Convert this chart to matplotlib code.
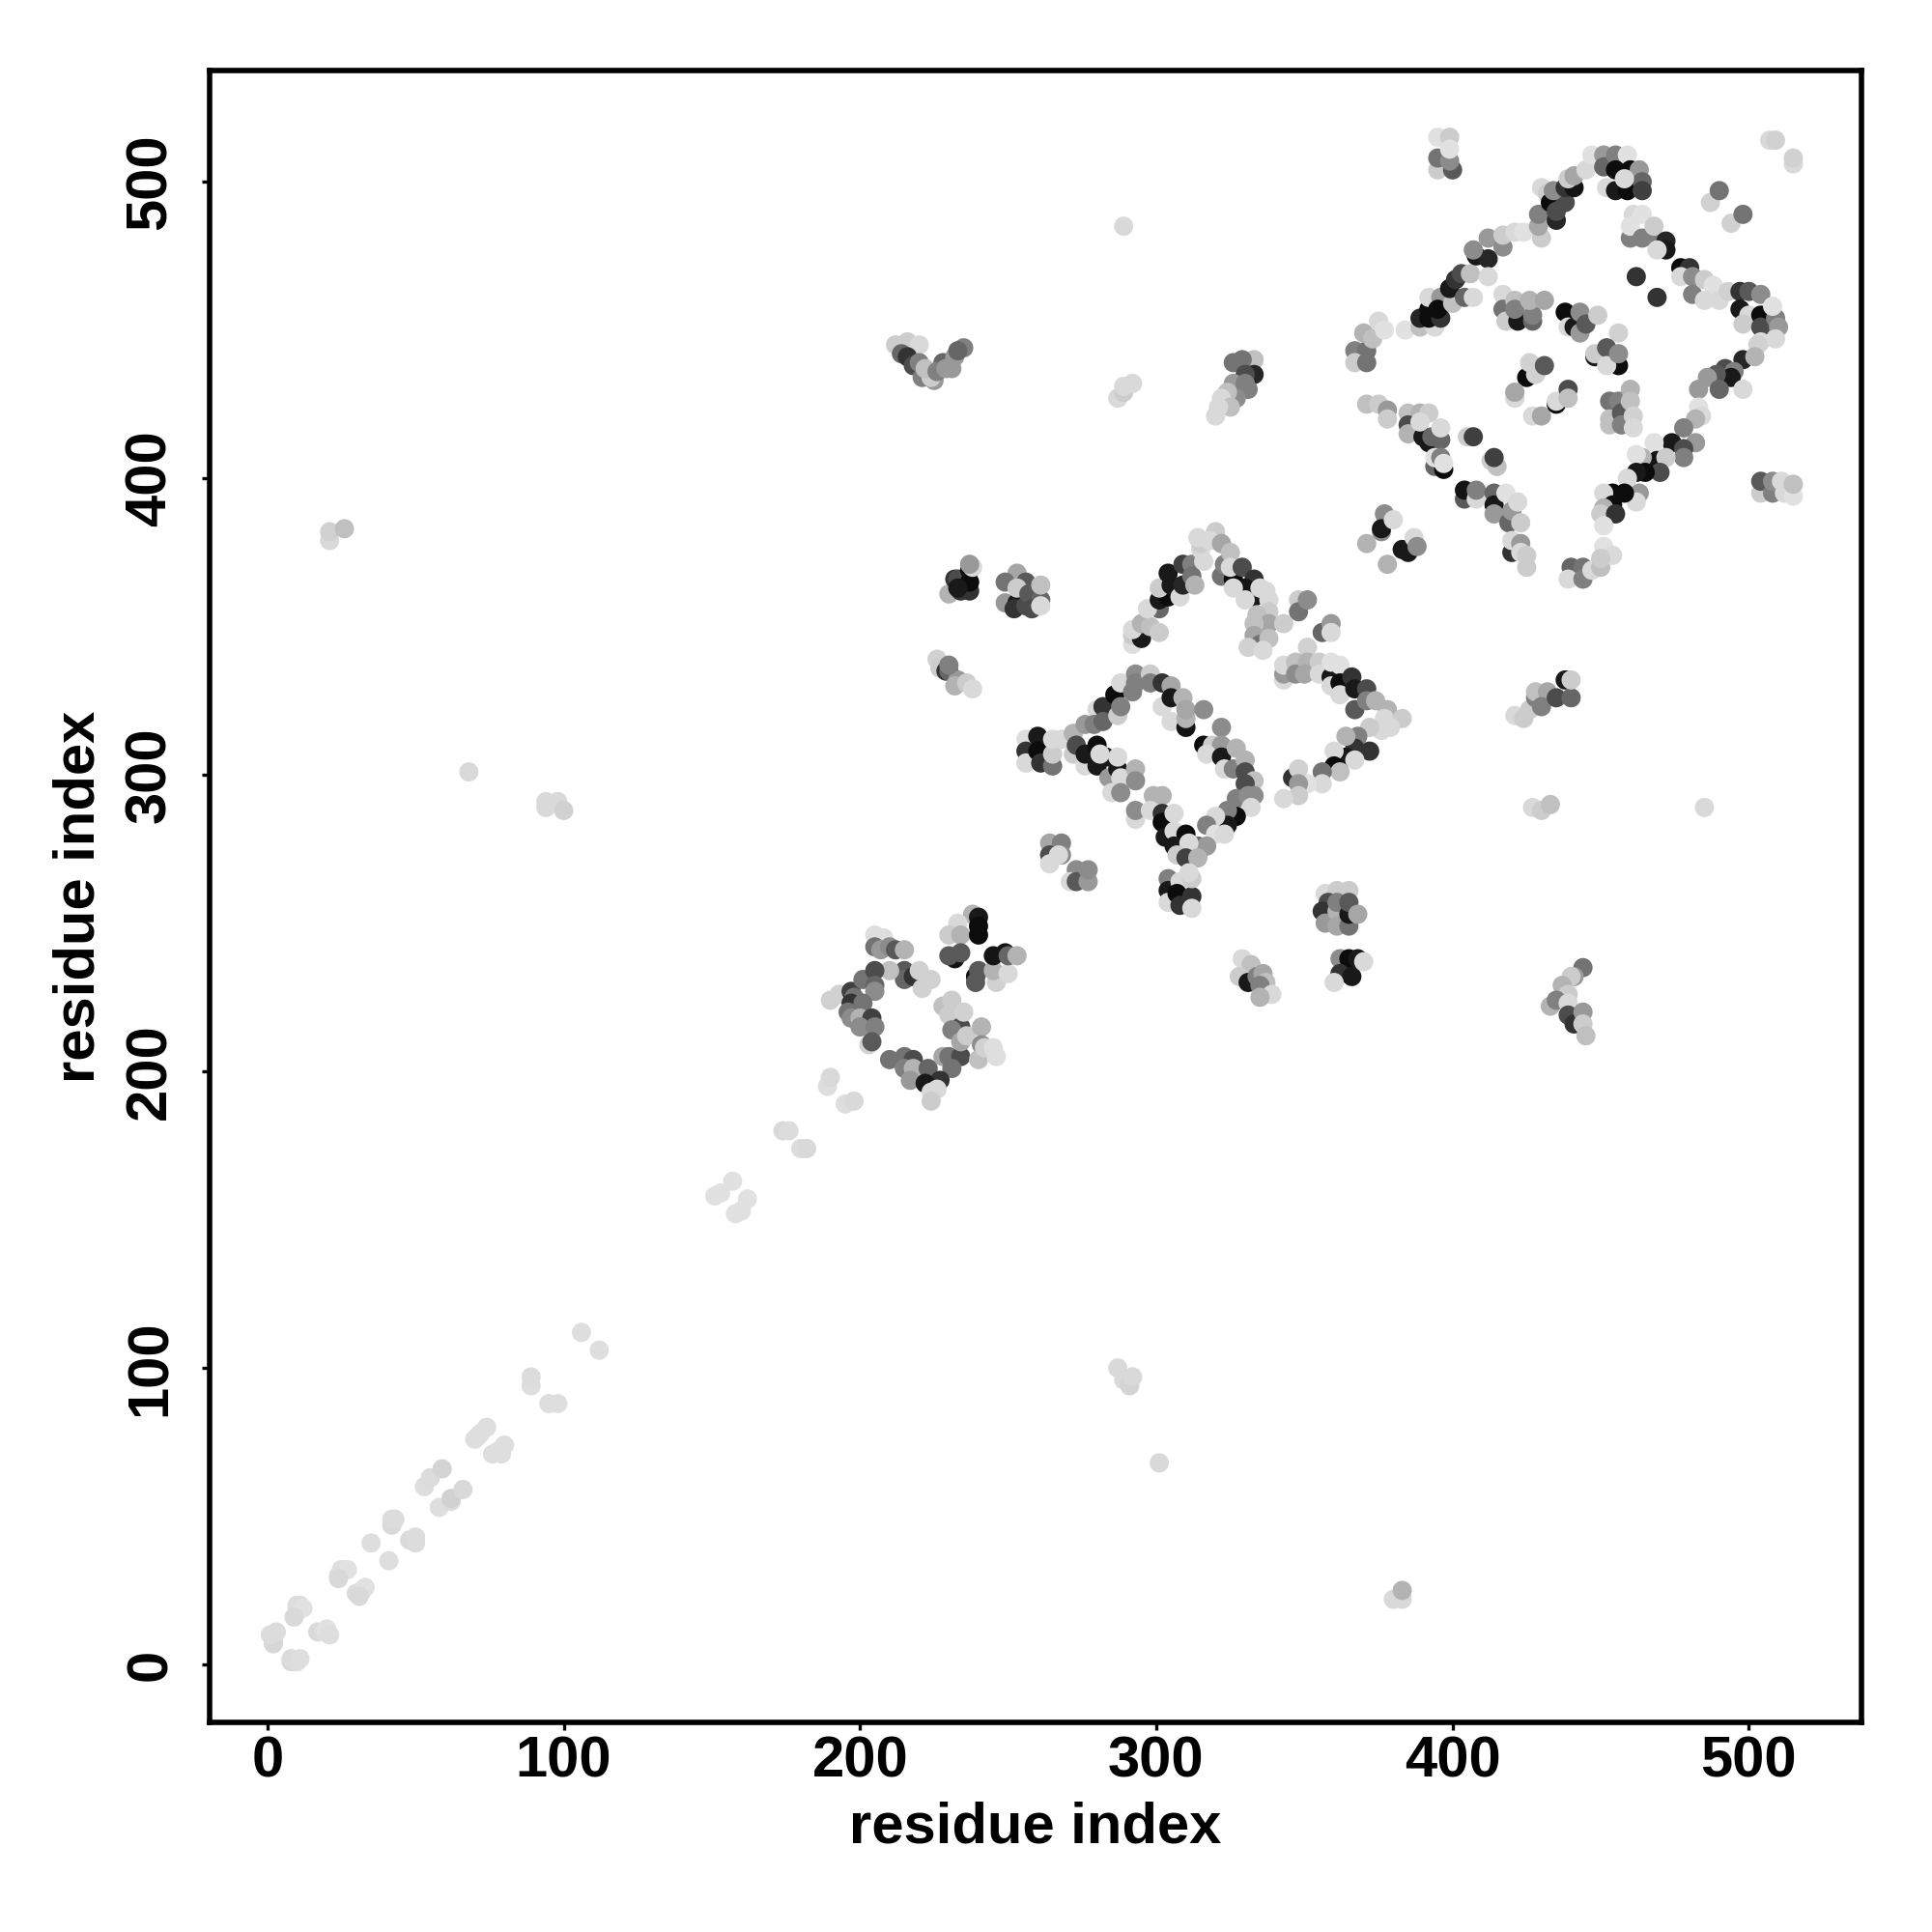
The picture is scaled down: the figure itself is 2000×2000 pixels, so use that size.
import matplotlib
matplotlib.use("Agg")
import matplotlib.pyplot as plt

# (residue i, residue j, shade)
diagonal = [(2,7,.84),(2,9,.85),(2,8,.84),(1,10,.86),(3,11,.86),(8,1,.84),(9,1,.85),(10,1,.87),(8,2,.86),(11,2,.87),(10,18,.86),(10,20,.86),(11,20,.87),(12,19,.88),(9,16,.85),
    (17,11,.85),(19,11,.87),(20,12,.88),(21,10,.87),(24,30,.86),(25,32,.87),(27,32,.88),(24,29,.85),(30,24,.86),(32,25,.87),(33,26,.88),(31,23,.85),
    (35,41,.87),(41,35,.87),(42,47,.85),(43,49,.86),(42,49,.86),(48,42,.85),(50,41,.86),(50,43,.86),(53,60,.87),(55,63,.86),(59,66,.83),
    (58,53,.87),(62,55,.86),(62,56,.82),(66,59,.85),(70,76,.87),(72,78,.87),(74,80,.87),(71,77,.87),(76,71,.87),(78,72,.87),(80,74,.87),(79,71,.87),
    (89,94,.87),(89,97,.86),(95,88,.87),(98,88,.87),(106,112,.87),(112,106,.87),
    (151,158,.88),(153,159,.88),(157,163,.88),(158,152,.88),(160,153,.88),(162,157,.88),
    (174,180,.85),(176,180,.86),(180,174,.86),(182,174,.85),(189,195,.87),(190,198,.85),(195,189,.87),(198,190,.85)]

far_contacts = [(21,379,.85),(21,382,.82),(26,383,.75),(68,301,.85),(94,289,.85),(94,291,.85),(98,291,.85),(100,288,.82),
    (287,100,.85),(289,96,.85),(291,94,.83),(292,97,.85),(301,68,.85),(380,22,.85),(383,22,.85),(383,25,.7),
    (289,485,.85),(485,289,.85),(287,427,.85),(289,429,.8),(289,431,.85),(292,432,.85),
    (427,289,.85),(430,288,.8),(433,290,.75)]

patch_200 = [(205,246,.87),(208,245,.87),(205,242,.45),(207,241,.6),(210,242,.55),(212,241,.35),(215,241,.7),
    (215,234,.35),(215,231,.4),(210,234,.75),(218,232,.2),(220,234,.82),(221,228,.82),(224,231,.82),
    (190,224,.82),(193,226,.82),(197,227,.25),(201,231,.45),(205,234,.3),(205,229,.4),(205,227,.55),
    (198,225,.45),(197,223,.2),(201,223,.45),(196,220,.45),(197,218,.55),(200,218,.7),(203,209,.82),(204,218,.25),
    (200,215,.55),(205,215,.5),(204,210,.35),
    (210,204,.45),(215,205,.45),(218,204,.3),(215,201,.5),(218,201,.7),(217,197,.6),(223,201,.4),
    (228,205,.65),(230,205,.45),(234,205,.3),(231,201,.45),(227,197,.2),(222,196,.1),(224,193,.85),(226,194,.85),(224,190,.8),
    (228,222,.75),(231,224,.8),(230,219,.8),(234,215,.3),(231,214,.5),(235,220,.82),(234,210,.65),(236,212,.8),
    (241,215,.7),(241,209,.55),(240,204,.75),(242,208,.82),(245,208,.87),(246,205,.87)]

patch_240 = [(238,253,.7),(233,250,.85),(230,246,.8),(234,246,.7),(240,252,.1),(240,249,.05),(240,246,.05),
    (232,238,.08),(230,239,.35),(234,240,.35),(239,232,.05),(239,230,.35),(240,234,.35),(246,230,.82),(245,234,.7),(250,233,.85),
    (245,239,.08),(249,240,.08),(250,239,.4),(253,239,.7)]

patch_360 = [(230,361,.7),(232,366,.2),(233,366,.3),(234,362,.2),(237,362,.2),(237,365,.05),(233,363,.1),(237,369,.05),(238,370,.85),(237,371,.6),
    (226,339,.82),(227,336,.8),(229,335,.2),(230,335,.4),(233,332,.6),(232,330,.7),(236,331,.8),(230,337,.5),(238,329,.85),
    (253,368,.65),(249,365,.45),(249,358,.6),(253,358,.1),(252,356,.2),(256,365,.35),(256,357,.3),(253,363,.8),
    (257,361,.35),(261,359,.4),(258,356,.3),(261,357,.85),(261,364,.75),
    (212,445,.8),(216,446,.8),(220,445,.85),(214,442,.4),(216,441,.2),(218,438,.3),(220,439,.5),(225,433,.6),(221,434,.5),(224,434,.8),(222,437,.75),
    (228,439,.4),(226,436,.5),(229,437,.6),(231,437,.6),(232,441,.6),(235,444,.5),(233,443,.4),
    (333,440,.75),(329,440,.45),(326,439,.45),(333,435,.15),(330,435,.3),(326,432,.6),(330,432,.5),(331,430,.5),(327,427,.55),(324,429,.75),(322,427,.85),(325,424,.75),(321,424,.85),(320,421,.85)]

loop_upper = [(292,344,.87),(292,347,.8),(295,346,.1),(292,349,.85),(295,351,.7),(298,350,.75),(301,348,.8),(301,356,.4),(297,356,.85),
    (301,359,.1),(304,360,.05),(301,363,.8),(305,364,.1),(304,368,.1),(308,360,.85),(309,364,.15),(309,371,.25),(312,371,.5),
    (312,367,.45),(313,364,.7),(316,372,.85),(315,376,.85),(315,378,.8),(314,380,.85),(320,382,.8),(318,379,.85),(322,378,.65),
    (322,367,.45),(323,371,.5),(326,366,.05),(325,375,.75),(325,370,.85),(329,370,.3),(333,366,.2),(330,363,.08),(326,363,.85),
    (333,360,.1),(330,359,.85),(335,363,.85),(337,362,.85),(338,359,.85),(338,355,.8),(334,354,.75),(338,351,.65),(333,351,.75),
    (333,347,.65),(335,344,.45),(331,343,.82),(338,346,.75),(336,342,.85),
    (348,359,.8),(348,355,.45),(351,359,.55),(356,348,.4),(359,351,.6),(359,348,.85),(343,351,.8),(351,343,.82)]

loop_right = [(343,332,.85),(343,334,.6),(343,337,.85),(347,338,.75),(347,334,.55),(351,338,.7),(350,334,.65),(355,338,.8),(355,334,.85),
    (359,333,.1),(359,338,.88),(362,337,.88),(359,330,.85),(362,331,.05),(366,333,.2),(362,327,.85),(367,329,.1),(371,329,.3),
    (367,322,.35),(371,325,.5),(374,325,.7),(378,322,.7),(377,319,.85),(383,319,.8),(379,316,.85),
    (376,315,.85),(372,316,.8),(368,313,.5),(372,308,.2),(367,309,.2),(364,313,.7),(364,306,.1),(367,305,.85),(360,308,.85),
    (360,303,.05),(362,301,.75),(356,301,.45),(346,299,.2),(356,297,.85),(351,297,.88),(348,302,.82),(348,297,.6),(348,293,.8),(343,292,.85)]

loop_middle = [(256,312,.87),(260,313,.1),(256,308,.2),(256,304,.85),(260,308,.05),(261,304,.2),(265,303,.45),(265,307,.8),(265,312,.85),(268,312,.85),
    (272,314,.7),(272,307,.8),(273,310,.3),(276,317,.6),(280,322,.85),(279,317,.5),(282,323,.2),(286,327,.05),(282,318,.4),(287,320,.8),
    (288,323,.5),(288,331,.85),(293,334,.55),(292,328,.5),(293,331,.5),(298,334,.8),(298,331,.5),
    (276,303,.85),(276,307,.1),(280,310,.05),(280,303,.1),(283,306,.1),(281,307,.85),(284,299,.6),(287,302,.1),(287,306,.85),
    (288,299,.85),(293,302,.7),(293,298,.55),(285,294,.85),(288,294,.55),
    (302,331,.2),(305,330,.65),(302,323,.85),(305,326,.1),(309,326,.7),(305,318,.85),(310,316,.08),(310,319,.7),(310,322,.65),(316,322,.55),(322,316,.55),
    (316,310,.05),(319,310,.8),(322,310,.6),(317,307,.85),(322,306,.1),(327,309,.7),(323,302,.85),(326,302,.5),(330,305,.7),(330,301,.3),
    (333,298,.75),(330,297,.3),(327,292,.5),(331,293,.55),(333,293,.55),(332,289,.85),
    (327,286,.05),(324,288,.5),(324,283,.1),(320,286,.85),(317,283,.5),(320,280,.88),(323,280,.85),(314,276,.4),(317,276,.6),(314,273,.6),(310,273,.3),
    (293,285,.85),(293,288,.55),(299,293,.7),(302,293,.7),(298,288,.85),(302,287,.2),(302,284,.05),(306,287,.85),(303,279,.1),(306,281,.85),
    (310,280,.05),(306,276,.1),(311,277,.85),(307,273,.8),(310,272,.25),(314,272,.7)]

patch_260 = [(304,265,.5),(304,261,.1),(304,257,.85),(308,264,.85),(307,260,.05),(308,256,.2),(312,259,.2),(312,255,.85),(312,265,.8),(311,267,.85),
    (264,277,.65),(268,277,.5),(264,273,.3),(268,273,.55),(267,273,.85),(264,270,.85),(273,268,.55),(271,264,.85),(273,264,.35),(277,264,.6),(277,268,.55),
    (357,260,.85),(361,261,.8),(365,261,.8),(358,257,.3),(356,254,.2),(357,250,.6),(361,254,.7),(361,249,.65),(361,257,.5),(365,249,.45),(365,253,.1),(365,257,.35),(368,253,.65),
    (362,238,.55),(365,238,.05),(362,233,.2),(366,232,.1),(360,230,.85),(368,238,.1),(370,237,.85),
    (329,238,.85),(332,236,.75),(328,232,.8),(331,230,.1),(334,232,.5),(336,233,.65),(337,230,.75),(335,229,.5),(339,226,.85),(335,225,.7),
    (444,235,.45),(441,232,.6),(440,232,.8),(437,229,.7),(439,226,.8),(433,222,.7),(435,224,.5),(439,223,.85),(439,219,.3),(441,216,.2),(444,220,.6),(444,216,.8),(445,212,.75),
    (421,320,.85),(424,319,.8),(426,322,.8),(428,326,.5),(428,328,.75),(432,328,.65),(430,323,.5),(435,326,.3),(438,332,.1),(440,326,.4),(440,332,.8)]

loop_big = [(367,443,.5),(371,443,.45),(367,439,.8),(371,439,.45),(370,449,.7),(373,447,.75),(375,453,.85),(377,450,.88),(384,450,.88),
    (389,451,.75),(394,451,.85),(389,454,.15),(392,454,.05),(392,457,.05),(396,454,.2),(392,461,.85),(396,461,.6),(395,457,.05),(400,459,.75),
    (399,464,.1),(401,467,.2),(403,469,.3),(404,461,.4),(407,461,.85),(406,469,.75),(408,475,.1),(412,474,.15),(407,477,.55),(412,481,.6),
    (412,468,.85),(417,478,.55),(417,482,.8),(421,483,.85),(424,483,.88),
    (430,481,.8),(429,485,.65),(429,489,.5),(435,487,.15),(430,498,.85),(432,496,.8),(433,493,.05),(435,490,.3),(438,493,.3),(434,497,.55),
    (438,498,.2),(441,498,.08),(439,501,.8),(441,502,.65),(445,504,.85),(447,509,.88),
    (451,509,.6),(451,505,.4),(455,509,.5),(459,509,.88),(452,498,.85),(455,504,.05),(460,504,.05),(463,504,.6),(455,497,.1),(459,497,.05),
    (464,500,.4),(464,497,.25),(458,501,.85),
    (461,489,.85),(464,489,.88),(460,481,.5),(460,485,.88),(464,481,.5),(468,481,.5),(468,485,.8),(472,480,.15),(472,477,.1),(469,477,.85),
    (477,471,.05),(480,471,.2),(477,468,.85),(481,468,.55),(481,462,.5),(485,467,.8),(488,465,.88),(485,460,.85),(490,460,.85),(493,463,.82),
    (497,463,.2),(500,463,.35),(504,462,.55),(497,457,.1),(500,455,.85),(504,455,.05),(498,452,.8),(504,451,.3),(509,454,.5),(510,451,.6),
    (508,458,.88),(509,447,.85),(504,446,.85),
    (503,445,.82),(498,440,.15),(502,441,.7),(492,437,.3),(495,436,.5),(494,434,.1),(498,430,.85),(489,435,.35),(486,434,.6),(490,430,.4),(483,430,.6),
    (483,424,.88),(484,421,.85),(482,420,.7),(478,417,.5),(482,412,.6),(474,412,.1),(478,410,.3),(478,407,.5),(468,412,.88),(469,406,.08),
    (472,407,.8),(470,402,.3),(464,407,.7),(462,408,.88),(465,402,.05),(463,395,.6),(462,402,.1),(459,400,.85),(462,392,.85),(458,395,.05),
    (454,395,.05),(451,395,.85),(454,391,.05),(451,390,.7),(450,388,.8),(455,388,.2),(451,384,.88),
    (440,370,.4),(444,370,.45),(439,366,.85),(444,366,.5),(447,369,.85),(450,370,.75),(451,377,.88),(454,374,.85),(450,373,.8)]

loop_big_lower = [(371,425,.75),(375,425,.8),(378,423,.6),(378,420,.8),(385,422,.75),(389,422,.7),(392,422,.8),(385,418,.3),(385,415,.7),
    (392,412,.1),(390,414,.1),(389,419,.85),(393,414,.4),(396,413,.4),(396,417,.85),
    (405,414,.8),(407,414,.25),(413,406,.8),(415,404,.75),(414,407,.25),(394,404,.4),(397,403,.05),(394,407,.88),(396,407,.5),(397,405,.88),
    (404,393,.35),(404,396,.08),(408,393,.85),(408,396,.5),
    (414,395,.4),(414,391,.1),(414,388,.6),(418,395,.88),(419,385,.4),(420,389,.6),(422,392,.85),(423,385,.8),
    (420,375,.2),(420,379,.85),(423,378,.6),(423,375,.85),(425,374,.8),(425,370,.8),
    (377,388,.55),(376,382,.55),(376,383,.1),(380,386,.85),(371,378,.7),(383,376,.1),(385,375,.1),(387,380,.85),(388,377,.55),(378,371,.7)]

loop_big_inner = [(417,462,.85),(417,457,.45),(418,453,.8),(422,453,.1),(421,460,.75),(421,457,.5),(427,453,.4),(427,455,.5),(426,460,.7),(431,460,.65),
    (438,456,.05),(439,451,.85),(441,451,.1),(443,449,.6),(443,456,.55),(445,452,.35),(449,455,.8),
    (448,441,.1),(448,442,.8),(456,449,.82),(452,444,.35),(456,438,.05),(452,438,.85),(456,442,.55),
    (425,434,.05),(428,435,.82),(426,439,.82),(431,438,.35),(421,429,.85),(421,427,.85),(421,429,.65),(427,421,.85),(430,421,.65),
    (435,425,.05),(435,426,.85),(439,430,.3),(439,427,.75),
    (453,426,.45),(456,426,.5),(453,420,.75),(453,418,.75),(457,422,.35),(457,418,.5),(460,430,.7),(460,426,.75),(461,421,.82),(461,417,.85),
    (395,504,.8),(400,504,.35),(395,508,.45),(399,507,.55),(395,515,.88),(399,515,.8),(399,511,.88),
    (507,514,.85),(509,514,.82),(515,506,.85),(515,508,.82),(487,493,.82),(490,497,.45),(494,486,.82),(498,489,.45),(462,468,.2),(469,461,.2),
    (504,395,.8),(504,399,.35),(508,395,.5),(508,399,.55),(512,395,.85),(511,399,.85),(515,394,.88),(515,398,.75)]

all_groups = [diagonal, far_contacts, patch_200, patch_240, patch_360, loop_upper, loop_right,
              loop_middle, patch_260, loop_big, loop_big_lower, loop_big_inner]

ticks = [0, 100, 200, 300, 400, 500]
axis_label = "residue index"

plt.rcParams["font.family"] = ["Liberation Sans", "DejaVu Sans"]
plt.rcParams["font.weight"] = "bold"

fig = plt.figure(figsize=(20, 20), dpi=100)
ax = fig.add_axes([0.1085, 0.1085, 0.855, 0.855])

for group in all_groups:
    xs = [p[0] for p in group]
    ys = [p[1] for p in group]
    shades = [p[2] for p in group]
    ax.scatter(xs, ys, c=shades, cmap="gray", vmin=0, vmax=1, s=205, linewidths=0, zorder=2)

ax.set_xlim(-19.5, 538)
ax.set_ylim(-19.5, 537.5)
ax.set_xticks(ticks)
ax.set_yticks(ticks)
ax.tick_params(axis="x", length=6, width=2.4, labelsize=43, pad=4)
ax.tick_params(axis="y", length=6, width=2.4, labelsize=43, pad=18)
plt.setp(ax.get_yticklabels(), rotation=90, va="center")
for spine in ax.spines.values():
    spine.set_linewidth(4)

ax.set_xlabel(axis_label, fontsize=43, fontweight="bold", labelpad=9)
ax.set_ylabel(axis_label, fontsize=43, fontweight="bold", labelpad=14)

fig.savefig("out.png", dpi=100, facecolor="white")
